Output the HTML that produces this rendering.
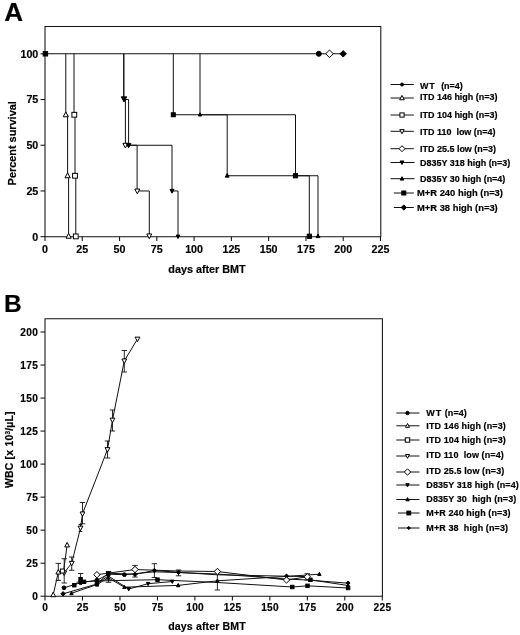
<!DOCTYPE html>
<html lang="en"><head><meta charset="utf-8"><title>Figure</title>
<style>html,body{margin:0;padding:0;background:#fff}body{width:520px;height:635px;overflow:hidden}svg{display:block}</style>
</head><body>
<svg width="520" height="635" viewBox="0 0 520 635" font-family="'Liberation Sans', Arial, sans-serif" font-weight="bold" fill="#000">
<rect width="520" height="635" fill="#fff"/>
<text x="4.3" y="21.3" font-size="26" text-anchor="start" stroke="#000" stroke-width="0.18" >A</text>
<path d="M45.0,26.4H380.8V236.7H45.0Z" fill="none" stroke="#111" stroke-width="1.05"/>
<path d="M40.5,236.70H45.0" fill="none" stroke="#111" stroke-width="1.05"/>
<text x="38.3" y="240.60" font-size="10.7" text-anchor="end" stroke="#000" stroke-width="0.18" >0</text>
<path d="M40.5,190.97H45.0" fill="none" stroke="#111" stroke-width="1.05"/>
<text x="38.3" y="194.88" font-size="10.7" text-anchor="end" stroke="#000" stroke-width="0.18" >25</text>
<path d="M40.5,145.25H45.0" fill="none" stroke="#111" stroke-width="1.05"/>
<text x="38.3" y="149.15" font-size="10.7" text-anchor="end" stroke="#000" stroke-width="0.18" >50</text>
<path d="M40.5,99.53H45.0" fill="none" stroke="#111" stroke-width="1.05"/>
<text x="38.3" y="103.43" font-size="10.7" text-anchor="end" stroke="#000" stroke-width="0.18" >75</text>
<path d="M40.5,53.80H45.0" fill="none" stroke="#111" stroke-width="1.05"/>
<text x="38.3" y="57.70" font-size="10.7" text-anchor="end" stroke="#000" stroke-width="0.18" >100</text>
<path d="M45.00,236.7V241.0" fill="none" stroke="#111" stroke-width="1.05"/>
<text x="45.00" y="253.4" font-size="10.7" text-anchor="middle" stroke="#000" stroke-width="0.18" >0</text>
<path d="M82.28,236.7V241.0" fill="none" stroke="#111" stroke-width="1.05"/>
<text x="82.28" y="253.4" font-size="10.7" text-anchor="middle" stroke="#000" stroke-width="0.18" >25</text>
<path d="M119.55,236.7V241.0" fill="none" stroke="#111" stroke-width="1.05"/>
<text x="119.55" y="253.4" font-size="10.7" text-anchor="middle" stroke="#000" stroke-width="0.18" >50</text>
<path d="M156.82,236.7V241.0" fill="none" stroke="#111" stroke-width="1.05"/>
<text x="156.82" y="253.4" font-size="10.7" text-anchor="middle" stroke="#000" stroke-width="0.18" >75</text>
<path d="M194.10,236.7V241.0" fill="none" stroke="#111" stroke-width="1.05"/>
<text x="194.10" y="253.4" font-size="10.7" text-anchor="middle" stroke="#000" stroke-width="0.18" >100</text>
<path d="M231.38,236.7V241.0" fill="none" stroke="#111" stroke-width="1.05"/>
<text x="231.38" y="253.4" font-size="10.7" text-anchor="middle" stroke="#000" stroke-width="0.18" >125</text>
<path d="M268.65,236.7V241.0" fill="none" stroke="#111" stroke-width="1.05"/>
<text x="268.65" y="253.4" font-size="10.7" text-anchor="middle" stroke="#000" stroke-width="0.18" >150</text>
<path d="M305.93,236.7V241.0" fill="none" stroke="#111" stroke-width="1.05"/>
<text x="305.93" y="253.4" font-size="10.7" text-anchor="middle" stroke="#000" stroke-width="0.18" >175</text>
<path d="M343.20,236.7V241.0" fill="none" stroke="#111" stroke-width="1.05"/>
<text x="343.20" y="253.4" font-size="10.7" text-anchor="middle" stroke="#000" stroke-width="0.18" >200</text>
<path d="M380.48,236.7V241.0" fill="none" stroke="#111" stroke-width="1.05"/>
<text x="380.48" y="253.4" font-size="10.7" text-anchor="middle" stroke="#000" stroke-width="0.18" >225</text>
<text x="207.0" y="273.2" font-size="10.8" text-anchor="middle" stroke="#000" stroke-width="0.18" >days after BMT</text>
<text transform="translate(15.9,143.3) rotate(-90)" font-size="10.9" stroke="#000" stroke-width="0.18" text-anchor="middle">Percent survival</text>
<path d="M45.0,53.80H343.2" fill="none" stroke="#111" stroke-width="1.05"/>
<path d="M65.8,53.80V114.76H67.6V175.74H68.6V236.70" fill="none" stroke="#111" stroke-width="1"/>
<path d="M74.0,53.80V114.76H75.0V175.74H75.8V236.70" fill="none" stroke="#111" stroke-width="1"/>
<path d="M123.8,53.80V99.53H125.4V145.25H137.1V190.97H149.3V236.70" fill="none" stroke="#111" stroke-width="1"/>
<path d="M123.8,53.80V99.53H128.6V145.25H172.0V190.97H178.0V236.70" fill="none" stroke="#111" stroke-width="1"/>
<path d="M173.3,53.80V114.76H295.5V175.74H309.3V236.70" fill="none" stroke="#111" stroke-width="1"/>
<path d="M200.0,53.80V114.76H227.2V175.74H318.0V236.70" fill="none" stroke="#111" stroke-width="1"/>
<rect x="43.20" y="51.60" width="4.4" height="4.4" fill="#000" stroke="#000" stroke-width="1"/>
<polygon points="65.80,111.86 68.40,116.80 63.20,116.80" fill="#fff" stroke="#000" stroke-width="1" stroke-linejoin="miter"/>
<polygon points="67.60,172.84 70.20,177.78 65.00,177.78" fill="#fff" stroke="#000" stroke-width="1" stroke-linejoin="miter"/>
<polygon points="68.60,233.30 71.20,238.24 66.00,238.24" fill="#fff" stroke="#000" stroke-width="1" stroke-linejoin="miter"/>
<rect x="71.90" y="112.36" width="4.8" height="4.8" fill="#fff" stroke="#000" stroke-width="1"/>
<rect x="72.60" y="173.34" width="4.8" height="4.8" fill="#fff" stroke="#000" stroke-width="1"/>
<rect x="73.40" y="234.00" width="4.8" height="4.8" fill="#fff" stroke="#000" stroke-width="1"/>
<polygon points="125.40,148.05 127.90,143.30 122.90,143.30" fill="#fff" stroke="#000" stroke-width="1" stroke-linejoin="miter"/>
<polygon points="137.30,193.78 139.80,189.03 134.80,189.03" fill="#fff" stroke="#000" stroke-width="1" stroke-linejoin="miter"/>
<polygon points="149.30,238.70 151.80,233.95 146.80,233.95" fill="#fff" stroke="#000" stroke-width="1" stroke-linejoin="miter"/>
<polygon points="124.00,101.93 126.70,96.80 121.30,96.80" fill="#000" stroke="#000" stroke-width="1" stroke-linejoin="miter"/>
<polygon points="128.60,147.75 130.90,143.38 126.30,143.38" fill="#000" stroke="#000" stroke-width="1" stroke-linejoin="miter"/>
<polygon points="172.00,193.17 174.00,189.37 170.00,189.37" fill="#000" stroke="#000" stroke-width="1" stroke-linejoin="miter"/>
<polygon points="178.00,238.50 179.80,235.08 176.20,235.08" fill="#000" stroke="#000" stroke-width="1" stroke-linejoin="miter"/>
<rect x="171.30" y="112.76" width="4.0" height="4.0" fill="#000" stroke="#000" stroke-width="1"/>
<rect x="293.40" y="173.64" width="4.2" height="4.2" fill="#000" stroke="#000" stroke-width="1"/>
<rect x="307.20" y="234.20" width="4.2" height="4.2" fill="#000" stroke="#000" stroke-width="1"/>
<polygon points="200.00,112.76 201.70,115.99 198.30,115.99" fill="#000" stroke="#000" stroke-width="1" stroke-linejoin="miter"/>
<polygon points="227.20,173.54 229.10,177.15 225.30,177.15" fill="#000" stroke="#000" stroke-width="1" stroke-linejoin="miter"/>
<polygon points="318.00,234.00 319.90,237.61 316.10,237.61" fill="#000" stroke="#000" stroke-width="1" stroke-linejoin="miter"/>
<circle cx="318.80" cy="53.80" r="2.5" fill="#000" stroke="#000" stroke-width="1"/>
<polygon points="329.50,50.00 333.30,53.80 329.50,57.60 325.70,53.80" fill="#fff" stroke="#000" stroke-width="1"/>
<polygon points="343.20,50.60 346.40,53.80 343.20,57.00 340.00,53.80" fill="#000" stroke="#000" stroke-width="1"/>
<path d="M390.5,84.5H413.8" fill="none" stroke="#111" stroke-width="1"/>
<circle cx="402.00" cy="84.50" r="1.5" fill="#000" stroke="#000" stroke-width="1"/>
<text x="420.0" y="88.6" font-size="8.98" text-anchor="start" stroke="#000" stroke-width="0.18" ><tspan letter-spacing="0.7">WT</tspan>&#160;&#160;<tspan dx="0.8">(n=4)</tspan></text>
<path d="M390.5,98.0H413.8" fill="none" stroke="#111" stroke-width="1"/>
<polygon points="402.00,95.40 404.30,99.77 399.70,99.77" fill="#fff" stroke="#000" stroke-width="1" stroke-linejoin="miter"/>
<text x="420.0" y="100.1" font-size="8.98" text-anchor="start" stroke="#000" stroke-width="0.18" >ITD 146 high (n=3)</text>
<path d="M390.5,115.0H413.8" fill="none" stroke="#111" stroke-width="1"/>
<rect x="399.90" y="112.90" width="4.2" height="4.2" fill="#fff" stroke="#000" stroke-width="1"/>
<text x="420.0" y="117.6" font-size="8.98" text-anchor="start" stroke="#000" stroke-width="0.18" >ITD 104 high (n=3)</text>
<path d="M390.5,131.3H413.8" fill="none" stroke="#111" stroke-width="1"/>
<polygon points="402.00,133.80 404.20,129.62 399.80,129.62" fill="#fff" stroke="#000" stroke-width="1" stroke-linejoin="miter"/>
<text x="420.0" y="134.5" font-size="8.98" text-anchor="start" stroke="#000" stroke-width="0.18" >ITD 110&#160;&#160;low (n=4)</text>
<path d="M390.5,148.7H413.8" fill="none" stroke="#111" stroke-width="1"/>
<polygon points="402.00,145.70 405.00,148.70 402.00,151.70 399.00,148.70" fill="#fff" stroke="#000" stroke-width="1"/>
<text x="420.0" y="151.9" font-size="8.98" text-anchor="start" stroke="#000" stroke-width="0.18" >ITD 25.5 low (n=3)</text>
<path d="M390.5,162.5H414.5" fill="none" stroke="#111" stroke-width="1"/>
<polygon points="402.00,164.60 403.90,160.99 400.10,160.99" fill="#000" stroke="#000" stroke-width="1" stroke-linejoin="miter"/>
<text x="420.0" y="165.7" font-size="8.98" text-anchor="start" stroke="#000" stroke-width="0.18" >D835Y 318 high (n=3)</text>
<path d="M390.5,178.7H414.5" fill="none" stroke="#111" stroke-width="1"/>
<polygon points="402.00,176.70 403.80,180.12 400.20,180.12" fill="#000" stroke="#000" stroke-width="1" stroke-linejoin="miter"/>
<text x="420.0" y="181.9" font-size="8.98" text-anchor="start" stroke="#000" stroke-width="0.18" >D835Y 30 high (n=4)</text>
<path d="M393.8,193.0H413.8" fill="none" stroke="#111" stroke-width="1"/>
<rect x="401.80" y="191.00" width="4.0" height="4.0" fill="#000" stroke="#000" stroke-width="1"/>
<text x="417.0" y="196.2" font-size="9.38" text-anchor="start" stroke="#000" stroke-width="0.18" >M+R 240 high (n=3)</text>
<path d="M393.8,207.5H413.8" fill="none" stroke="#111" stroke-width="1"/>
<polygon points="403.80,204.90 406.40,207.50 403.80,210.10 401.20,207.50" fill="#000" stroke="#000" stroke-width="1"/>
<text x="417.0" y="210.7" font-size="9.38" text-anchor="start" stroke="#000" stroke-width="0.18" >M+R 38 high (n=3)</text>
<text x="4.0" y="312.2" font-size="24.5" text-anchor="start" stroke="#000" stroke-width="0.18" >B</text>
<path d="M45.0,318.7H382.4V596.2H45.0Z" fill="none" stroke="#111" stroke-width="1.05"/>
<path d="M40.5,596.20H45.0" fill="none" stroke="#111" stroke-width="1.05"/>
<text x="38.1" y="599.70" font-size="10.1" text-anchor="end" stroke="#000" stroke-width="0.18" letter-spacing="0.3">0</text>
<path d="M40.5,563.18H45.0" fill="none" stroke="#111" stroke-width="1.05"/>
<text x="38.1" y="566.68" font-size="10.1" text-anchor="end" stroke="#000" stroke-width="0.18" letter-spacing="0.3">25</text>
<path d="M40.5,530.15H45.0" fill="none" stroke="#111" stroke-width="1.05"/>
<text x="38.1" y="533.65" font-size="10.1" text-anchor="end" stroke="#000" stroke-width="0.18" letter-spacing="0.3">50</text>
<path d="M40.5,497.13H45.0" fill="none" stroke="#111" stroke-width="1.05"/>
<text x="38.1" y="500.63" font-size="10.1" text-anchor="end" stroke="#000" stroke-width="0.18" letter-spacing="0.3">75</text>
<path d="M40.5,464.10H45.0" fill="none" stroke="#111" stroke-width="1.05"/>
<text x="38.1" y="467.60" font-size="10.1" text-anchor="end" stroke="#000" stroke-width="0.18" letter-spacing="0.3">100</text>
<path d="M40.5,431.08H45.0" fill="none" stroke="#111" stroke-width="1.05"/>
<text x="38.1" y="434.58" font-size="10.1" text-anchor="end" stroke="#000" stroke-width="0.18" letter-spacing="0.3">125</text>
<path d="M40.5,398.05H45.0" fill="none" stroke="#111" stroke-width="1.05"/>
<text x="38.1" y="401.55" font-size="10.1" text-anchor="end" stroke="#000" stroke-width="0.18" letter-spacing="0.3">150</text>
<path d="M40.5,365.03H45.0" fill="none" stroke="#111" stroke-width="1.05"/>
<text x="38.1" y="368.53" font-size="10.1" text-anchor="end" stroke="#000" stroke-width="0.18" letter-spacing="0.3">175</text>
<path d="M40.5,332.00H45.0" fill="none" stroke="#111" stroke-width="1.05"/>
<text x="38.1" y="335.50" font-size="10.1" text-anchor="end" stroke="#000" stroke-width="0.18" letter-spacing="0.3">200</text>
<path d="M45.00,596.2V600.4000000000001" fill="none" stroke="#111" stroke-width="1.05"/>
<text x="45.20" y="611.2" font-size="10.1" text-anchor="middle" stroke="#000" stroke-width="0.18" letter-spacing="0.3">0</text>
<path d="M82.47,596.2V600.4000000000001" fill="none" stroke="#111" stroke-width="1.05"/>
<text x="82.67" y="611.2" font-size="10.1" text-anchor="middle" stroke="#000" stroke-width="0.18" letter-spacing="0.3">25</text>
<path d="M119.95,596.2V600.4000000000001" fill="none" stroke="#111" stroke-width="1.05"/>
<text x="120.15" y="611.2" font-size="10.1" text-anchor="middle" stroke="#000" stroke-width="0.18" letter-spacing="0.3">50</text>
<path d="M157.43,596.2V600.4000000000001" fill="none" stroke="#111" stroke-width="1.05"/>
<text x="157.62" y="611.2" font-size="10.1" text-anchor="middle" stroke="#000" stroke-width="0.18" letter-spacing="0.3">75</text>
<path d="M194.90,596.2V600.4000000000001" fill="none" stroke="#111" stroke-width="1.05"/>
<text x="195.10" y="611.2" font-size="10.1" text-anchor="middle" stroke="#000" stroke-width="0.18" letter-spacing="0.3">100</text>
<path d="M232.38,596.2V600.4000000000001" fill="none" stroke="#111" stroke-width="1.05"/>
<text x="232.57" y="611.2" font-size="10.1" text-anchor="middle" stroke="#000" stroke-width="0.18" letter-spacing="0.3">125</text>
<path d="M269.85,596.2V600.4000000000001" fill="none" stroke="#111" stroke-width="1.05"/>
<text x="270.05" y="611.2" font-size="10.1" text-anchor="middle" stroke="#000" stroke-width="0.18" letter-spacing="0.3">150</text>
<path d="M307.33,596.2V600.4000000000001" fill="none" stroke="#111" stroke-width="1.05"/>
<text x="307.53" y="611.2" font-size="10.1" text-anchor="middle" stroke="#000" stroke-width="0.18" letter-spacing="0.3">175</text>
<path d="M344.80,596.2V600.4000000000001" fill="none" stroke="#111" stroke-width="1.05"/>
<text x="345.00" y="611.2" font-size="10.1" text-anchor="middle" stroke="#000" stroke-width="0.18" letter-spacing="0.3">200</text>
<path d="M382.28,596.2V600.4000000000001" fill="none" stroke="#111" stroke-width="1.05"/>
<text x="382.48" y="611.2" font-size="10.1" text-anchor="middle" stroke="#000" stroke-width="0.18" letter-spacing="0.3">225</text>
<text x="207.0" y="629.8" font-size="10.6" text-anchor="middle" stroke="#000" stroke-width="0.18" letter-spacing="0.12">days after BMT</text>
<text transform="translate(13.0,449.6) rotate(-90)" font-size="10.45" stroke="#000" stroke-width="0.18" text-anchor="middle" letter-spacing="0.2">WBC [x 10<tspan font-size="6.5" dy="-3.5">3</tspan><tspan dy="3.5">/µL]</tspan></text>
<path d="M64.2,572.8L71.7,563.2L80.5,528L82.5,513.8L107.5,449.5L112.5,420L124.3,360.8L137.5,339" fill="none" stroke="#111" stroke-width="1"/>
<path d="M64.20,558.70V583.00M61.50,558.70H66.90M61.50,583.00H66.90" fill="none" stroke="#111" stroke-width="0.9"/>
<path d="M71.70,557.00V570.30M69.00,557.00H74.40M69.00,570.30H74.40" fill="none" stroke="#111" stroke-width="0.9"/>
<path d="M82.50,502.50V523.80M79.80,502.50H85.20M79.80,523.80H85.20" fill="none" stroke="#111" stroke-width="0.9"/>
<path d="M80.50,524.50V531.50M78.70,524.50H82.30M78.70,531.50H82.30" fill="none" stroke="#111" stroke-width="0.9"/>
<path d="M107.50,441.00V458.00M104.80,441.00H110.20M104.80,458.00H110.20" fill="none" stroke="#111" stroke-width="0.9"/>
<path d="M112.50,410.00V431.00M109.80,410.00H115.20M109.80,431.00H115.20" fill="none" stroke="#111" stroke-width="0.9"/>
<path d="M124.30,350.50V372.00M121.60,350.50H127.00M121.60,372.00H127.00" fill="none" stroke="#111" stroke-width="0.9"/>
<path d="M53.20,594.90 L58.30,572.20 L63.50,571.80 L67.10,545.10" fill="none" stroke="#111" stroke-width="1"/>
<path d="M58.30,563.40V580.40M55.60,563.40H61.00M55.60,580.40H61.00" fill="none" stroke="#111" stroke-width="0.9"/>
<path d="M64.00,587.80 L80.60,582.70 L97.00,580.20 L108.30,574.20 L124.40,574.70 L154.60,571.80 L178.50,572.60 L217.40,574.00 L286.50,579.00 L307.40,580.00 L348.10,583.20" fill="none" stroke="#111" stroke-width="1"/>
<path d="M96.90,574.70 L135.00,569.50 L178.50,571.00 L217.40,571.50 L286.50,580.00 L307.30,576.80" fill="none" stroke="#111" stroke-width="1"/>
<path d="M97.00,583.50 L108.30,576.00 L128.70,589.00 L148.10,583.70 L172.30,581.50" fill="none" stroke="#111" stroke-width="1"/>
<path d="M71.50,593.30 L97.00,584.50 L108.30,577.80 L124.40,587.20 L178.20,585.40 L217.40,580.80 L286.50,576.40 L319.40,574.20" fill="none" stroke="#111" stroke-width="1"/>
<path d="M310.40,579.80 L348.10,585.50" fill="none" stroke="#111" stroke-width="1"/>
<path d="M74.30,585.20 L80.60,579.20 L84.00,581.80 L97.00,581.00 L112.00,580.60 L157.50,579.70 L217.40,582.50 L292.30,587.00 L307.50,585.80 L348.10,588.00" fill="none" stroke="#111" stroke-width="1"/>
<path d="M63.10,593.80 L97.00,584.00 L108.30,573.20 L135.00,574.30 L154.40,570.50 L178.50,572.30 L217.40,574.80 L286.50,576.20 L307.40,576.60" fill="none" stroke="#111" stroke-width="1"/>
<path d="M80.60,573.50V583.50M77.90,573.50H83.30M77.90,583.50H83.30" fill="none" stroke="#111" stroke-width="0.9"/>
<path d="M108.50,571.50V582.30M105.80,571.50H111.20M105.80,582.30H111.20" fill="none" stroke="#111" stroke-width="0.9"/>
<path d="M135.00,565.40V577.00M132.30,565.40H137.70M132.30,577.00H137.70" fill="none" stroke="#111" stroke-width="0.9"/>
<path d="M154.40,563.70V577.50M151.70,563.70H157.10M151.70,577.50H157.10" fill="none" stroke="#111" stroke-width="0.9"/>
<path d="M178.50,570.00V575.80M175.80,570.00H181.20M175.80,575.80H181.20" fill="none" stroke="#111" stroke-width="0.9"/>
<path d="M217.40,571.50V590.00M214.70,571.50H220.10M214.70,590.00H220.10" fill="none" stroke="#111" stroke-width="0.9"/>
<path d="M307.30,573.70V580.00M304.60,573.70H310.00M304.60,580.00H310.00" fill="none" stroke="#111" stroke-width="0.9"/>
<path d="M97.00,575.00V586.00M95.20,575.00H98.80M95.20,586.00H98.80" fill="none" stroke="#111" stroke-width="0.9"/>
<polygon points="64.20,575.50 66.60,570.94 61.80,570.94" fill="#fff" stroke="#000" stroke-width="1" stroke-linejoin="miter"/>
<polygon points="71.70,565.90 74.10,561.34 69.30,561.34" fill="#fff" stroke="#000" stroke-width="1" stroke-linejoin="miter"/>
<polygon points="80.50,530.70 82.90,526.14 78.10,526.14" fill="#fff" stroke="#000" stroke-width="1" stroke-linejoin="miter"/>
<polygon points="82.50,516.50 84.90,511.94 80.10,511.94" fill="#fff" stroke="#000" stroke-width="1" stroke-linejoin="miter"/>
<polygon points="107.50,452.20 109.90,447.64 105.10,447.64" fill="#fff" stroke="#000" stroke-width="1" stroke-linejoin="miter"/>
<polygon points="112.50,422.70 114.90,418.14 110.10,418.14" fill="#fff" stroke="#000" stroke-width="1" stroke-linejoin="miter"/>
<polygon points="124.30,363.50 126.70,358.94 121.90,358.94" fill="#fff" stroke="#000" stroke-width="1" stroke-linejoin="miter"/>
<polygon points="137.50,341.70 139.90,337.14 135.10,337.14" fill="#fff" stroke="#000" stroke-width="1" stroke-linejoin="miter"/>
<polygon points="53.20,592.20 55.60,596.76 50.80,596.76" fill="#fff" stroke="#000" stroke-width="1" stroke-linejoin="miter"/>
<polygon points="58.30,569.50 60.70,574.06 55.90,574.06" fill="#fff" stroke="#000" stroke-width="1" stroke-linejoin="miter"/>
<polygon points="67.10,542.40 69.50,546.96 64.70,546.96" fill="#fff" stroke="#000" stroke-width="1" stroke-linejoin="miter"/>
<rect x="60.40" y="569.00" width="4.0" height="4.0" fill="#fff" stroke="#000" stroke-width="1"/>
<polygon points="71.50,591.40 73.20,594.63 69.80,594.63" fill="#000" stroke="#000" stroke-width="1" stroke-linejoin="miter"/>
<polygon points="97.00,582.60 98.70,585.83 95.30,585.83" fill="#000" stroke="#000" stroke-width="1" stroke-linejoin="miter"/>
<polygon points="108.30,575.90 110.00,579.13 106.60,579.13" fill="#000" stroke="#000" stroke-width="1" stroke-linejoin="miter"/>
<polygon points="124.40,585.30 126.10,588.53 122.70,588.53" fill="#000" stroke="#000" stroke-width="1" stroke-linejoin="miter"/>
<polygon points="178.20,583.50 179.90,586.73 176.50,586.73" fill="#000" stroke="#000" stroke-width="1" stroke-linejoin="miter"/>
<polygon points="217.40,578.90 219.10,582.13 215.70,582.13" fill="#000" stroke="#000" stroke-width="1" stroke-linejoin="miter"/>
<polygon points="319.40,572.30 321.10,575.53 317.70,575.53" fill="#000" stroke="#000" stroke-width="1" stroke-linejoin="miter"/>
<polygon points="348.10,583.60 349.80,586.83 346.40,586.83" fill="#000" stroke="#000" stroke-width="1" stroke-linejoin="miter"/>
<polygon points="108.30,577.90 110.00,574.67 106.60,574.67" fill="#000" stroke="#000" stroke-width="1" stroke-linejoin="miter"/>
<polygon points="128.70,590.90 130.40,587.67 127.00,587.67" fill="#000" stroke="#000" stroke-width="1" stroke-linejoin="miter"/>
<polygon points="148.10,585.60 149.80,582.37 146.40,582.37" fill="#000" stroke="#000" stroke-width="1" stroke-linejoin="miter"/>
<polygon points="172.30,583.40 174.00,580.17 170.60,580.17" fill="#000" stroke="#000" stroke-width="1" stroke-linejoin="miter"/>
<rect x="72.60" y="583.50" width="3.4" height="3.4" fill="#000" stroke="#000" stroke-width="1"/>
<rect x="78.90" y="577.50" width="3.4" height="3.4" fill="#000" stroke="#000" stroke-width="1"/>
<rect x="82.30" y="580.10" width="3.4" height="3.4" fill="#000" stroke="#000" stroke-width="1"/>
<rect x="95.30" y="579.30" width="3.4" height="3.4" fill="#000" stroke="#000" stroke-width="1"/>
<rect x="106.60" y="571.90" width="3.4" height="3.4" fill="#000" stroke="#000" stroke-width="1"/>
<rect x="155.80" y="578.00" width="3.4" height="3.4" fill="#000" stroke="#000" stroke-width="1"/>
<rect x="290.60" y="585.30" width="3.4" height="3.4" fill="#000" stroke="#000" stroke-width="1"/>
<rect x="305.80" y="584.10" width="3.4" height="3.4" fill="#000" stroke="#000" stroke-width="1"/>
<rect x="346.40" y="586.30" width="3.4" height="3.4" fill="#000" stroke="#000" stroke-width="1"/>
<rect x="308.70" y="578.10" width="3.4" height="3.4" fill="#000" stroke="#000" stroke-width="1"/>
<polygon points="63.10,591.60 65.30,593.80 63.10,596.00 60.90,593.80" fill="#000" stroke="#000" stroke-width="1"/>
<polygon points="97.00,581.80 99.20,584.00 97.00,586.20 94.80,584.00" fill="#000" stroke="#000" stroke-width="1"/>
<polygon points="135.00,572.10 137.20,574.30 135.00,576.50 132.80,574.30" fill="#000" stroke="#000" stroke-width="1"/>
<polygon points="154.40,568.30 156.60,570.50 154.40,572.70 152.20,570.50" fill="#000" stroke="#000" stroke-width="1"/>
<polygon points="178.50,570.10 180.70,572.30 178.50,574.50 176.30,572.30" fill="#000" stroke="#000" stroke-width="1"/>
<polygon points="286.50,574.00 288.70,576.20 286.50,578.40 284.30,576.20" fill="#000" stroke="#000" stroke-width="1"/>
<circle cx="64.00" cy="587.80" r="1.9" fill="#000" stroke="#000" stroke-width="1"/>
<circle cx="80.60" cy="582.70" r="1.9" fill="#000" stroke="#000" stroke-width="1"/>
<circle cx="97.00" cy="580.20" r="1.9" fill="#000" stroke="#000" stroke-width="1"/>
<circle cx="124.40" cy="574.70" r="1.9" fill="#000" stroke="#000" stroke-width="1"/>
<polygon points="348.10,581.00 350.10,583.00 348.10,585.00 346.10,583.00" fill="#000" stroke="#000" stroke-width="1"/>
<polygon points="96.90,571.50 100.10,574.70 96.90,577.90 93.70,574.70" fill="#fff" stroke="#000" stroke-width="1"/>
<polygon points="135.00,566.30 138.20,569.50 135.00,572.70 131.80,569.50" fill="#fff" stroke="#000" stroke-width="1"/>
<polygon points="217.40,568.30 220.60,571.50 217.40,574.70 214.20,571.50" fill="#fff" stroke="#000" stroke-width="1"/>
<polygon points="286.50,576.80 289.70,580.00 286.50,583.20 283.30,580.00" fill="#fff" stroke="#000" stroke-width="1"/>
<polygon points="307.30,573.60 310.50,576.80 307.30,580.00 304.10,576.80" fill="#fff" stroke="#000" stroke-width="1"/>
<path d="M396.3,413.0H419.5" fill="none" stroke="#111" stroke-width="1"/>
<circle cx="407.50" cy="413.00" r="1.7" fill="#000" stroke="#000" stroke-width="1"/>
<text x="426.3" y="416.2" font-size="9" text-anchor="start" stroke="#000" stroke-width="0.18" letter-spacing="0.1"><tspan letter-spacing="0.9">WT</tspan> (n=4)</text>
<path d="M396.3,425.8H419.5" fill="none" stroke="#111" stroke-width="1"/>
<polygon points="407.50,423.50 409.50,427.30 405.50,427.30" fill="#fff" stroke="#000" stroke-width="1" stroke-linejoin="miter"/>
<text x="426.3" y="429.0" font-size="9" text-anchor="start" stroke="#000" stroke-width="0.18" letter-spacing="0.1">ITD 146 high (n=3)</text>
<path d="M396.3,440.0H419.5" fill="none" stroke="#111" stroke-width="1"/>
<rect x="405.30" y="437.80" width="4.4" height="4.4" fill="#fff" stroke="#000" stroke-width="1"/>
<text x="426.3" y="443.2" font-size="9" text-anchor="start" stroke="#000" stroke-width="0.18" letter-spacing="0.1">ITD 104 high (n=3)</text>
<path d="M396.3,456.0H419.5" fill="none" stroke="#111" stroke-width="1"/>
<polygon points="407.50,458.30 409.50,454.50 405.50,454.50" fill="#fff" stroke="#000" stroke-width="1" stroke-linejoin="miter"/>
<text x="426.3" y="458.2" font-size="9" text-anchor="start" stroke="#000" stroke-width="0.18" letter-spacing="0.1">ITD 110&#160;&#160;low (n=4)</text>
<path d="M396.3,472.0H419.5" fill="none" stroke="#111" stroke-width="1"/>
<polygon points="407.50,468.80 410.70,472.00 407.50,475.20 404.30,472.00" fill="#fff" stroke="#000" stroke-width="1"/>
<text x="426.3" y="474.2" font-size="9" text-anchor="start" stroke="#000" stroke-width="0.18" letter-spacing="0.1">ITD 25.5 low (n=3)</text>
<path d="M396.3,485.0H419.5" fill="none" stroke="#111" stroke-width="1"/>
<polygon points="407.50,486.90 409.20,483.67 405.80,483.67" fill="#000" stroke="#000" stroke-width="1" stroke-linejoin="miter"/>
<text x="426.3" y="487.7" font-size="9" text-anchor="start" stroke="#000" stroke-width="0.18" letter-spacing="0.1">D835Y 318 high (n=4)</text>
<path d="M396.3,499.5H419.5" fill="none" stroke="#111" stroke-width="1"/>
<polygon points="407.50,497.60 409.20,500.83 405.80,500.83" fill="#000" stroke="#000" stroke-width="1" stroke-linejoin="miter"/>
<text x="426.3" y="502.2" font-size="9" text-anchor="start" stroke="#000" stroke-width="0.18" letter-spacing="0.1">D835Y 30&#160;&#160;high (n=3)</text>
<path d="M398.0,513.0H419.5" fill="none" stroke="#111" stroke-width="1"/>
<rect x="406.90" y="511.10" width="3.8" height="3.8" fill="#000" stroke="#000" stroke-width="1"/>
<text x="426.3" y="516.2" font-size="9" text-anchor="start" stroke="#000" stroke-width="0.18" letter-spacing="0.1">M+R 240 high (n=3)</text>
<path d="M398.0,528.0H419.5" fill="none" stroke="#111" stroke-width="1"/>
<polygon points="408.80,526.40 410.40,528.00 408.80,529.60 407.20,528.00" fill="#000" stroke="#000" stroke-width="1"/>
<text x="426.3" y="531.2" font-size="9" text-anchor="start" stroke="#000" stroke-width="0.18" letter-spacing="0.1">M+R 38&#160;&#160;high (n=3)</text>
</svg>
</body></html>
